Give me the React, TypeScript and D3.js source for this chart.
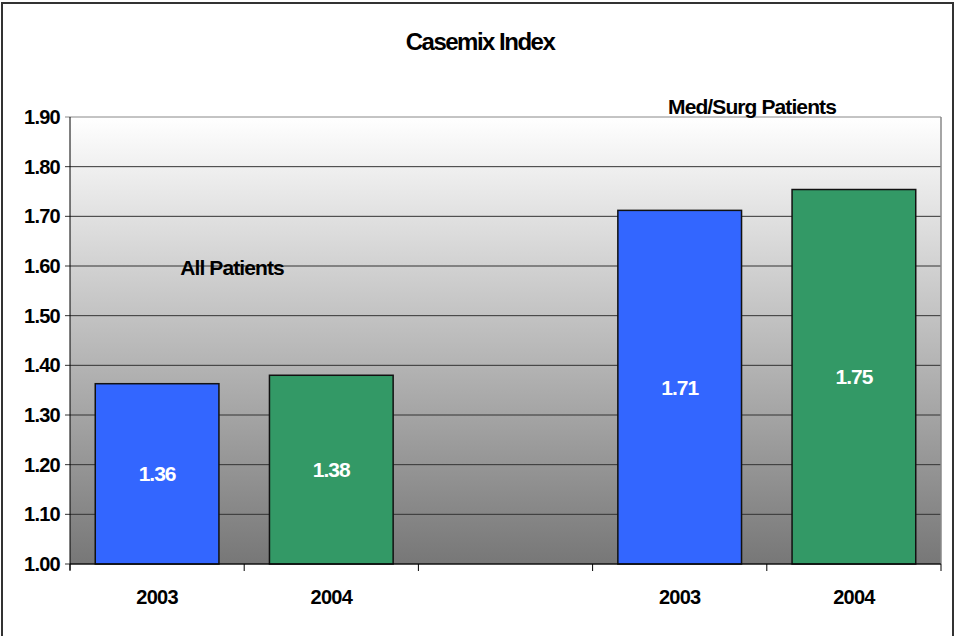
import React from "react";
import * as d3 from "d3";

const categories = ["a2003", "a2004", "gap", "m2003", "m2004"];
const tickLabels = ["2003", "2004", "", "2003", "2004"];
const values: (number | null)[] = [1.363, 1.38, null, 1.712, 1.754];
const barColors = ["#3366FF", "#339966", "none", "#3366FF", "#339966"];
const yTicks = [1.0, 1.1, 1.2, 1.3, 1.4, 1.5, 1.6, 1.7, 1.8, 1.9];
const title = "Casemix Index";
const groupLabels = [
  { text: "All Patients", x: 232, y: 275 },
  { text: "Med/Surg Patients", x: 752, y: 114 },
];

const W = 956;
const H = 636;
const left = 70;
const right = 941;
const top = 117;
const bottom = 564;
const font = "'Liberation Sans', Arial, sans-serif";

export default function App() {
  const x = d3
    .scaleBand<string>()
    .domain(categories)
    .range([left, right])
    .paddingInner(0.29)
    .paddingOuter(0.145);
  const step = (right - left) / categories.length;
  const y = d3.scaleLinear().domain([1.0, 1.9]).range([bottom, top]);
  const fmt = d3.format(".2f");

  return (
    <svg
      width={W}
      height={H}
      style={{ position: "absolute", left: 0, top: 0, background: "#fff" }}
    >
      <defs>
        <linearGradient id="bg" x1="0" y1="0" x2="0" y2="1">
          <stop offset="0" stopColor="#ffffff" />
          <stop offset="1" stopColor="#777777" />
        </linearGradient>
      </defs>
      <rect x={2} y={3} width={951} height={H + 10} fill="none" stroke="#333" strokeWidth={2} />

      <text
        x={480}
        y={50}
        textAnchor="middle"
        fontFamily={font}
        fontWeight="bold"
        fontSize={24}
        letterSpacing={-1.5}
      >
        {title}
      </text>

      <rect x={left} y={top} width={right - left} height={bottom - top} fill="url(#bg)" />
      {yTicks.map((t) => (
        <line
          key={t}
          x1={left - 5}
          x2={right}
          y1={y(t)}
          y2={y(t)}
          stroke={t === 1.9 ? "#888" : "#333"}
          strokeWidth={1}
        />
      ))}
      <line x1={right} x2={right} y1={top} y2={bottom} stroke="#888" strokeWidth={1.5} />

      {categories.map((c, i) => {
        const v = values[i];
        if (v == null) return null;
        const bx = x(c)!;
        const by = y(v);
        const bh = bottom - by;
        return (
          <g key={c}>
            <rect
              x={bx}
              y={by}
              width={x.bandwidth()}
              height={bh}
              fill={barColors[i]}
              stroke="#111"
              strokeWidth={1.5}
            />
            <text
              x={bx + x.bandwidth() / 2}
              y={by + bh / 2 + 7.5}
              textAnchor="middle"
              fill="#fff"
              fontFamily={font}
              fontWeight="bold"
              fontSize={21}
              letterSpacing={-1}
            >
              {fmt(v)}
            </text>
          </g>
        );
      })}

      <line x1={left} x2={left} y1={top} y2={bottom + 6} stroke="#000" strokeWidth={1} />
      <line x1={left} x2={right} y1={bottom} y2={bottom} stroke="#000" strokeWidth={1} />
      {d3.range(categories.length + 1).map((i) => (
        <line
          key={i}
          x1={left + i * step}
          x2={left + i * step}
          y1={bottom}
          y2={bottom + 7}
          stroke="#000"
          strokeWidth={1}
        />
      ))}
      {yTicks.map((t) => (
        <text
          key={t}
          x={left - 10}
          y={y(t) + 7}
          textAnchor="end"
          fontFamily={font}
          fontWeight="bold"
          fontSize={20}
          letterSpacing={-0.75}
        >
          {fmt(t)}
        </text>
      ))}
      {categories.map((c, i) => (
        <text
          key={c}
          x={left + (i + 0.5) * step}
          y={604}
          textAnchor="middle"
          fontFamily={font}
          fontWeight="bold"
          fontSize={20}
          letterSpacing={-0.75}
        >
          {tickLabels[i]}
        </text>
      ))}
      {groupLabels.map((g) => (
        <text
          key={g.text}
          x={g.x}
          y={g.y}
          textAnchor="middle"
          fontFamily={font}
          fontWeight="bold"
          fontSize={21}
          letterSpacing={-0.9}
        >
          {g.text}
        </text>
      ))}
    </svg>
  );
}
